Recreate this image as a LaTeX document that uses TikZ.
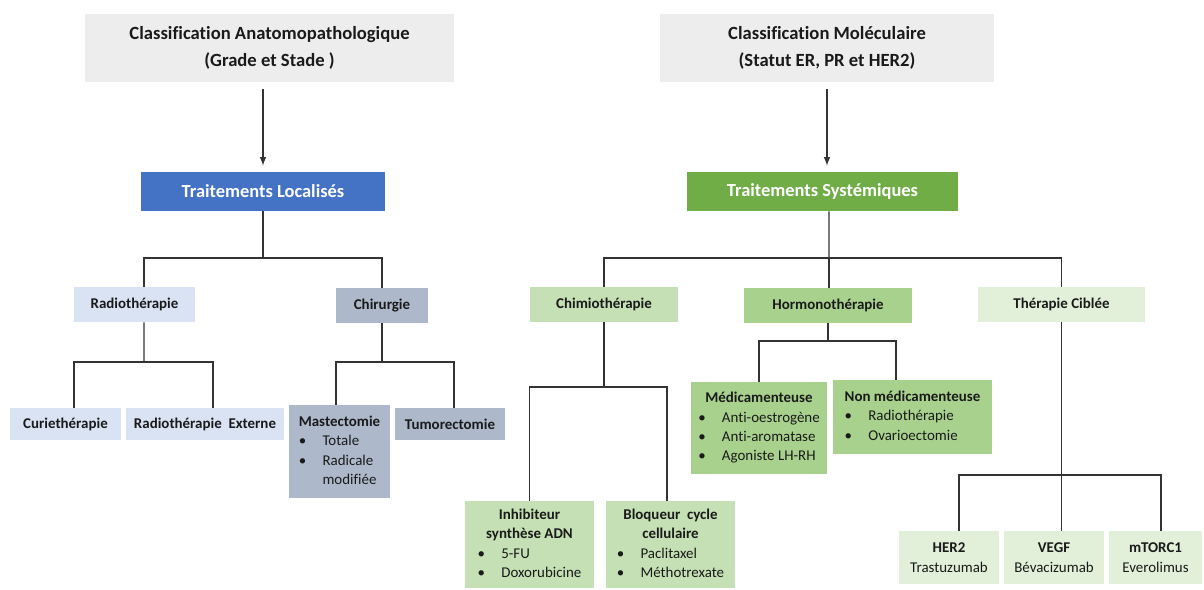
\documentclass[tikz,border=0pt]{standalone}
\usepackage{fontspec}
\setmainfont{Carlito}[Ligatures=NoCommon]
\definecolor{grisclair}{HTML}{EDEDED}
\definecolor{bleufort}{HTML}{4472C4}
\definecolor{vertfort}{HTML}{70AD47}
\definecolor{bleupale}{HTML}{DAE3F3}
\definecolor{grisbleu}{HTML}{ADB9CA}
\definecolor{vertclair}{HTML}{C5E0B4}
\definecolor{vertmoyen}{HTML}{A9D18E}
\definecolor{vertpale}{HTML}{E2F0D9}
\definecolor{trait}{HTML}{333333}
\definecolor{texte}{HTML}{1A1A1A}
\newcommand{\puce}{\makebox[13.5pt][l]{•}}
\newcommand{\retrait}{\hspace{13.5pt}}
\begin{document}
\begin{tikzpicture}[x=0.02cm,y=-0.02cm,
  taille/.style 2 args={minimum width=#1*0.02cm,minimum height=#2*0.02cm},
  boite/.style={inner sep=0pt,align=center,text=texte,font=\fontsize{8.5}{11}\selectfont},
  branche/.style={boite,font=\fontsize{8.5}{11}\selectfont\bfseries},
  titre/.style={boite,fill=grisclair,font=\fontsize{10.6}{15}\selectfont\bfseries},
  chef/.style={boite,text=white,font=\fontsize{10.5}{13}\selectfont\bfseries},
  lien/.style={draw=trait,line width=0.7pt},
  fleche/.style={lien,-latex,shorten <=0.14cm,shorten >=0.12cm}]
\useasboundingbox (0,0) rectangle (1204,590);

\node[titre,taille={369}{68}] (titreA) at (269.5,48) {Classification Anatomopathologique\\(Grade et Stade )};
\node[titre,taille={334}{68}] (titreB) at (827,48) {Classification Moléculaire\\(Statut ER, PR et HER2)};
\node[chef,fill=bleufort,taille={244}{39}] (locaux) at (263,191.5) {Traitements Localisés};
\node[chef,fill=vertfort,taille={271}{39}] (systeme) at (822.5,191.5) {Traitements Systémiques};

\node[branche,fill=bleupale,taille={121}{35}] (radio) at (134.5,304.5) {Radiothérapie};
\node[branche,fill=grisbleu,taille={92}{35}] (chir) at (382,305.5) {Chirurgie};
\node[branche,fill=bleupale,taille={111}{32}] (curie) at (65.5,424) {Curiethérapie};
\node[branche,fill=bleupale,taille={158}{32}] (radioext) at (205,424) {Radiothérapie\ \ Externe};
\node[boite,fill=grisbleu,taille={101}{93}] (mast) at (339.5,451.5) {\begin{tabular}{@{}l@{}}
  \textbf{Mastectomie}\\ \puce Totale\\ \puce Radicale\\ \retrait modifiée\end{tabular}};
\node[branche,fill=grisbleu,taille={110}{32}] (tumeur) at (450,424) {Tumorectomie};

\node[branche,fill=vertclair,taille={148}{35}] (chimio) at (604,304.5) {Chimiothérapie};
\node[branche,fill=vertmoyen,taille={168}{35}] (hormono) at (828,305.5) {Hormonothérapie};
\node[branche,fill=vertpale,taille={167}{35}] (cible) at (1061.5,304.5) {Thérapie Ciblée};

\node[boite,fill=vertclair,taille={129}{87}] (inhib) at (529.5,544.5) {\begin{tabular}{@{}l@{}}
  \multicolumn{1}{@{}c@{}}{\textbf{Inhibiteur}}\\ \multicolumn{1}{@{}c@{}}{\textbf{synthèse ADN}}\\
  \puce 5-FU\\ \puce Doxorubicine\end{tabular}};
\node[boite,fill=vertclair,taille={129}{87}] (bloq) at (670.5,544.5) {\begin{tabular}{@{}l@{}}
  \multicolumn{1}{@{}c@{}}{\textbf{Bloqueur\ \ cycle}}\\ \multicolumn{1}{@{}c@{}}{\textbf{cellulaire}}\\
  \puce Paclitaxel\\ \puce Méthotrexate\end{tabular}};
\node[boite,fill=vertmoyen,taille={136}{92}] (medic) at (759,428) {\begin{tabular}{@{}l@{}}
  \multicolumn{1}{@{}c@{}}{\textbf{Médicamenteuse}}\\ \puce Anti-oestrogène\\ \puce Anti-aromatase\\ \puce Agoniste LH-RH\end{tabular}};
\node[boite,fill=vertmoyen,taille={159}{74}] (nonmedic) at (912.5,417) {\begin{tabular}{@{}l@{}}
  \multicolumn{1}{@{}c@{}}{\textbf{Non médicamenteuse}}\\ \puce Radiothérapie\\ \puce Ovarioectomie\end{tabular}};
\node[boite,fill=vertpale,taille={100}{53}] (her) at (949,557.5) {\textbf{HER2}\\Trastuzumab};
\node[boite,fill=vertpale,taille={100}{53}] (vegf) at (1054,557.5) {\textbf{VEGF}\\Bévacizumab};
\node[boite,fill=vertpale,taille={93}{53}] (mtor) at (1155.5,557.5) {\textbf{mTORC1}\\Everolimus};

\draw[fleche] (titreA.south -| locaux.north) -- (locaux.north);
\draw[fleche] (titreB.south) -- (titreB.south |- systeme.north);

\coordinate (jA) at (263,258);
\draw[lien] (locaux.south) -- (jA);
\draw[lien] ([xshift=0.19cm]radio.north) |- (jA) -| (chir.north);
\coordinate (jRadio) at (144,362);
\draw[lien] ([xshift=0.19cm]radio.south) -- (jRadio);
\draw[lien] ([xshift=0.17cm]curie.north) |- (jRadio) -| ([xshift=0.16cm]radioext.north);
\coordinate (jChir) at (382,362);
\draw[lien] (chir.south) -- (jChir);
\draw[lien] ([xshift=-0.07cm]mast.north) |- (jChir) -| ([xshift=0.08cm]tumeur.north);

\coordinate (jB) at (829,258);
\draw[lien] ([xshift=0.13cm]systeme.south) -- (jB);
\draw[lien] (chimio.north) |- (jB) -| (cible.north);
\draw[lien] (jB) -- (jB |- hormono.north);
\coordinate (jChimio) at (604,387);
\draw[lien] (chimio.south) -- (jChimio);
\draw[lien] (inhib.north) |- (jChimio) -| ([xshift=-0.07cm]bloq.north);
\coordinate (jHormo) at (828,341);
\draw[lien] (hormono.south) -- (jHormo);
\draw[lien] (medic.north) |- (jHormo) -| ([xshift=-0.33cm]nonmedic.north);
\coordinate (jCible) at (1061.5,475);
\draw[lien] (cible.south) -- (jCible);
\draw[lien] ([xshift=0.2cm]her.north) |- (jCible) -| ([xshift=0.11cm]mtor.north);
\draw[lien] (jCible) -- (jCible |- vegf.north);
\end{tikzpicture}
\end{document}
